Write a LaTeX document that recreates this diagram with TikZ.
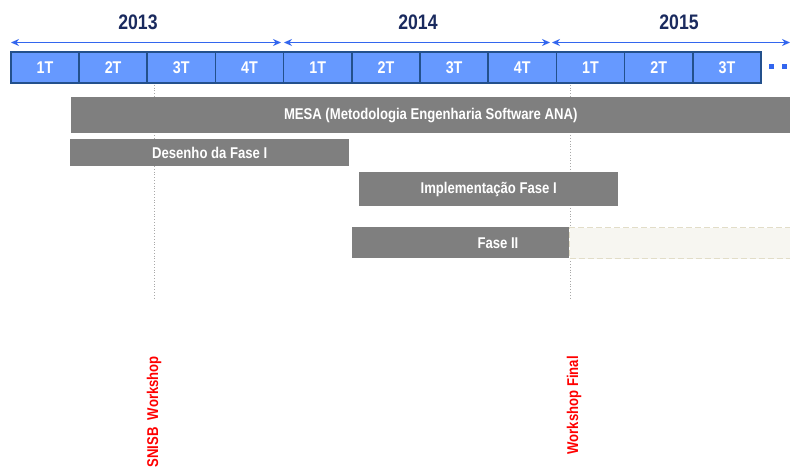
\documentclass[tikz,border=0pt]{standalone}
\usepackage{fontspec}
\setmainfont{Liberation Sans}[FakeStretch=0.84]
\usetikzlibrary{arrows.meta}
\definecolor{qfill}{HTML}{6699FF}
\definecolor{qdraw}{HTML}{23508C}
\definecolor{yearc}{HTML}{1A2A5E}
\definecolor{arrc}{HTML}{3366EE}
\definecolor{barc}{HTML}{7F7F7F}
\definecolor{ghostfill}{HTML}{F7F6F1}
\definecolor{ghostdraw}{HTML}{E2DDC8}
\definecolor{vline}{HTML}{A8A8A8}
\begin{document}
\begin{tikzpicture}[x=1pt,y=-1pt,
  qbox/.style={draw=qdraw, line width=1.6pt, fill=qfill, minimum width=68.2pt,
    minimum height=31pt, inner sep=0pt, text=white, anchor=north west,
    font=\bfseries\fontsize{17}{17}\selectfont},
  yearlbl/.style={text=yearc, font=\bfseries\fontsize{21}{21}\selectfont, inner sep=0pt},
  yarrow/.style={draw=arrc, line width=1pt, {Stealth[length=8pt,width=7pt]}-{Stealth[length=8pt,width=7pt]}},
  dotsq/.style={fill=arrc, minimum size=5pt, inner sep=0pt},
  bar/.style={fill=barc, draw=none, anchor=north west, inner sep=0pt, text=white,
    font=\bfseries\fontsize{15.6}{15.6}\selectfont},
  bartext/.style={text=white, inner sep=0pt, font=\bfseries\fontsize{15.6}{15.6}\selectfont},
  ghost/.style={fill=ghostfill, draw=ghostdraw, line width=1.2pt, dash pattern=on 6pt off 3pt,
    anchor=north west, inner sep=0pt},
  guide/.style={draw=vline, line width=0.8pt, dotted},
  event/.style={rotate=90, anchor=east, text=red, inner sep=0pt,
    font=\bfseries\fontsize{15.6}{15.6}\selectfont}
]
\useasboundingbox (0,0) rectangle (790,468);

% year labels
\node[yearlbl] (y13) at (138,22) {2013};
\node[yearlbl] (y14) at (418,22) {2014};
\node[yearlbl] (y15) at (679,22) {2015};

% year arrows
\coordinate (a13s) at (11,42.5);  \coordinate (a13e) at (281,42.5);
\coordinate (a14s) at (284,42.5); \coordinate (a14e) at (550,42.5);
\coordinate (a15s) at (552,42.5); \coordinate (a15e) at (790,42.5);
\draw[yarrow] (a13s) -- (a13e);
\draw[yarrow] (a14s) -- (a14e);
\draw[yarrow] (a15s) -- (a15e);

% guide lines
\coordinate (g1s) at (154,82); \coordinate (g1e) at (154,300);
\coordinate (g2s) at (570,82); \coordinate (g2e) at (570,300);
\draw[guide] (g1s) -- (g1e);
\draw[guide] (g2s) -- (g2e);

% quarter boxes
\foreach \i/\t in {0/1T,1/2T,2/3T,3/4T,4/1T,5/2T,6/3T,7/4T,8/1T,9/2T,10/3T}
  \node[qbox] (q\i) at ({10+\i*68.2},51) {\t};
\node[dotsq] (d1) at (771,67) {};
\node[dotsq] (d2) at (784,67) {};

% bars
\node[bar, minimum width=719pt, minimum height=36pt] (mesa) at (71,97)
  {MESA (Metodologia Engenharia Software ANA)};
\node[bar, minimum width=279pt, minimum height=27pt] (des) at (70,139) {Desenho da Fase I};
\node[bar, minimum width=259pt, minimum height=34pt] (impl) at (359,172) {Implementação Fase I};
\node[bar, minimum width=217pt, minimum height=31pt] (f2) at (352,227) {};
\node[bartext] (f2t) at (498,243) {Fase II};
\node[ghost, minimum width=221pt, minimum height=31pt] (f2g) at (569,227) {};

% events
\node[event] (ev1) at (154,356) {SNISB\ \ Workshop};
\node[event] (ev2) at (574,356) {Workshop Final};
\end{tikzpicture}
\end{document}
